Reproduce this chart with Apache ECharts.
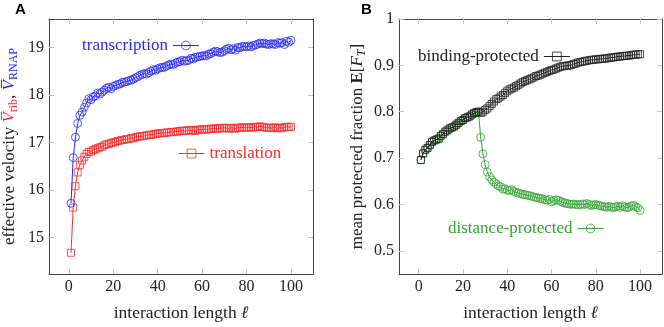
<!DOCTYPE html>
<html>
<head>
<meta charset="utf-8">
<script src="https://cdn.jsdelivr.net/npm/echarts@6/dist/echarts.min.js"></script>
<style>html,body{margin:0;padding:0;background:#fff}#c{width:664px;height:327px}</style>
</head>
<body>
<div id="c"></div>
<script>
// interaction length ℓ = 1..100
const ell = Array.from({length: 100}, (_, i) => i + 1);
const xTicks = [0, 20, 40, 60, 80, 100];
const yTicksA = [15, 16, 17, 18, 19];
const yTicksB = [0.5, 0.6, 0.7, 0.8, 0.9, 1];

const transcription = [15.72,16.68,17.11,17.40,17.57,17.64,17.74,17.83,17.92,17.90,
17.96,17.98,18.04,18.02,18.06,18.10,18.14,18.16,18.13,18.18,
18.20,18.22,18.23,18.26,18.27,18.28,18.30,18.31,18.33,18.36,
18.38,18.41,18.43,18.45,18.44,18.47,18.50,18.53,18.52,18.55,
18.57,18.58,18.58,18.61,18.63,18.65,18.64,18.67,18.69,18.70,
18.73,18.71,18.72,18.73,18.77,18.76,18.79,18.80,18.81,18.82,
18.83,18.82,18.86,18.87,18.90,18.92,18.91,18.89,18.90,18.93,
18.96,18.98,18.95,18.97,18.94,19.00,18.99,19.02,19.02,19.01,
19.03,19.01,19.04,19.05,19.07,19.09,19.08,19.09,19.07,19.06,
19.08,19.07,19.06,19.10,19.09,19.10,19.06,19.13,19.11,19.15];

const translation = [14.68,15.63,16.08,16.37,16.53,16.62,16.70,16.76,16.80,16.81,
16.84,16.86,16.88,16.90,16.91,16.94,16.96,16.97,16.99,17.00,
17.01,17.03,17.04,17.05,17.06,17.07,17.07,17.09,17.09,17.11,
17.12,17.13,17.13,17.14,17.15,17.16,17.16,17.17,17.18,17.19,
17.19,17.20,17.20,17.21,17.21,17.22,17.22,17.23,17.23,17.24,
17.25,17.24,17.25,17.26,17.25,17.26,17.24,17.27,17.27,17.27,
17.28,17.27,17.28,17.29,17.29,17.30,17.29,17.30,17.30,17.31,
17.30,17.29,17.31,17.30,17.29,17.31,17.31,17.32,17.31,17.31,
17.32,17.31,17.32,17.33,17.32,17.34,17.33,17.32,17.31,17.31,
17.30,17.31,17.32,17.30,17.31,17.30,17.32,17.33,17.32,17.33];

const bindingProtected = [0.696,0.710,0.718,0.722,0.728,0.735,0.738,0.740,0.742,0.748,
0.752,0.757,0.760,0.764,0.766,0.768,0.772,0.776,0.780,0.782,
0.786,0.788,0.790,0.794,0.797,0.799,0.800,0.797,0.800,0.804,
0.807,0.812,0.817,0.822,0.827,0.829,0.833,0.836,0.840,0.844,
0.848,0.850,0.852,0.855,0.858,0.861,0.864,0.866,0.868,0.870,
0.872,0.874,0.877,0.878,0.880,0.882,0.884,0.886,0.888,0.890,
0.891,0.893,0.895,0.897,0.898,0.899,0.899,0.900,0.901,0.903,
0.904,0.906,0.907,0.908,0.909,0.910,0.911,0.912,0.912,0.913,
0.913,0.914,0.914,0.915,0.915,0.916,0.917,0.917,0.918,0.919,
0.919,0.920,0.920,0.921,0.921,0.922,0.923,0.923,0.924,0.924];

const distanceProtected = [0.696,0.710,0.718,0.722,0.728,0.735,0.738,0.740,0.742,0.748,
0.752,0.757,0.760,0.764,0.766,0.768,0.772,0.776,0.780,0.782,
0.786,0.788,0.790,0.794,0.797,0.799,0.800,0.745,0.709,0.686,
0.670,0.660,0.653,0.648,0.644,0.640,0.638,0.633,0.634,0.631,
0.630,0.632,0.628,0.626,0.625,0.623,0.622,0.621,0.620,0.619,
0.618,0.616,0.615,0.614,0.613,0.612,0.610,0.609,0.611,0.606,
0.608,0.610,0.609,0.607,0.605,0.603,0.602,0.601,0.600,0.601,
0.600,0.599,0.600,0.601,0.600,0.602,0.600,0.598,0.599,0.600,
0.598,0.597,0.596,0.595,0.594,0.596,0.594,0.593,0.595,0.596,
0.594,0.597,0.595,0.593,0.594,0.597,0.598,0.595,0.593,0.587];

const SERIF = '"Liberation Serif", "DejaVu Serif", serif';
const BLUE = '#2a2aff', RED = '#ff2a2a', GREEN = '#36a336', BLACK = '#222222';
const pairs = (ys) => ell.map((x, i) => [x, ys[i]]);

const chart = echarts.init(document.getElementById('c'), null, {renderer: 'canvas'});

const axisLineStyle = {show: true, onZero: false, lineStyle: {color: '#444', width: 1}};

function xAxes(gi) {
  const base = {
    type: 'value', gridIndex: gi, min: -8.9, max: 109.9,
    axisLine: axisLineStyle,
    axisTick: {show: true, inside: true, length: 5, lineStyle: {color: '#c4c4c4'}, customValues: xTicks},
    splitLine: {show: false}
  };
  return [
    Object.assign({}, base, {
      position: 'bottom',
      axisLabel: {show: true, customValues: xTicks, margin: 5, color: '#222', fontFamily: SERIF, fontSize: 16},
      name: 'interaction length {i|ℓ}', nameLocation: 'middle', nameGap: 30,
      nameTextStyle: {color: '#222', fontFamily: SERIF, fontSize: 17.5, rich: {i: {fontFamily: SERIF, fontSize: 17.5, fontStyle: 'italic', color: '#222'}}}
    }),
    Object.assign({}, base, {position: 'top', axisLabel: {show: false}})
  ];
}
function yAxes(gi, min, max, ticks, nameOpts) {
  const base = {
    type: 'value', gridIndex: gi, min: min, max: max,
    axisLine: axisLineStyle,
    axisTick: {show: true, inside: true, length: 5, lineStyle: {color: '#c4c4c4'}, customValues: ticks},
    splitLine: {show: false}
  };
  return [
    Object.assign({}, base, {
      position: 'left',
      axisLabel: {show: true, customValues: ticks, margin: 5, color: '#222', fontFamily: SERIF, fontSize: 16},
    }, nameOpts),
    Object.assign({}, base, {position: 'right', axisLabel: {show: false}})
  ];
}

const sub = (c) => ({color: c, fontFamily: SERIF, fontSize: 12, lineHeight: 10, verticalAlign: 'bottom'});
const main = (c, it) => ({color: c, fontFamily: SERIF, fontSize: 17, lineHeight: 20, verticalAlign: 'middle', fontStyle: it ? 'italic' : 'normal'});

const xa = xAxes(0).concat(xAxes(1));
const ya = yAxes(0, 14.233, 19.597, yTicksA, {
  name: '{t|effective velocity }{r|V\u0305}{rs|rib}{t|, }{b|V\u0305}{bs|RNAP}',
  nameLocation: 'middle', nameGap: 29,
  nameTextStyle: {rich: {t: main('#222'), r: main(RED, true), rs: sub(RED), b: main(BLUE, true), bs: sub(BLUE)}}
}).concat(yAxes(1, 0.45, 1.0, yTicksB, {
  name: '{t|mean protected fraction }{e|E}{t|[}{f|F}{s|T}{t|]}',
  nameLocation: 'middle', nameGap: 31,
  nameTextStyle: {rich: {t: main('#222'), e: Object.assign(main('#222'), {fontWeight: 'bold'}), f: main('#222', true), s: Object.assign(sub('#222'), {fontStyle: 'italic'})}}
}));

function lineSeries(name, xi, yi, data, color, symbol, size, z) {
  return {
    name: name, type: 'line', xAxisIndex: xi, yAxisIndex: yi, data: data,
    symbol: symbol, symbolSize: size, showSymbol: true, showAllSymbol: true,
    lineStyle: {color: color, width: 1},
    itemStyle: {color: 'rgba(255,255,255,0)', borderColor: color, borderWidth: 0.9, opacity: 0.9},
    emphasis: {disabled: true}, animation: false, z: z
  };
}

const legendBase = {
  orient: 'horizontal', padding: 0, itemWidth: 26, itemHeight: 11, itemGap: 0,
  selectedMode: false, textStyle: {fontFamily: SERIF, fontSize: 17},
  lineStyle: {width: 1}, itemStyle: {borderWidth: 0.9}
};

chart.setOption({
  backgroundColor: '#fff',
  animation: false,
  title: [
    {text: 'A', left: 15, top: 2, padding: 0, textStyle: {fontFamily: '"Liberation Sans", Arial, sans-serif', fontWeight: 'bold', fontSize: 15, color: '#000'}},
    {text: 'B', left: 361, top: 2, padding: 0, textStyle: {fontFamily: '"Liberation Sans", Arial, sans-serif', fontWeight: 'bold', fontSize: 15, color: '#000'}}
  ],
  grid: [
    {left: 49, top: 19, width: 264, height: 264, containLabel: false},
    {left: 399, top: 19, width: 263, height: 264, containLabel: false}
  ],
  xAxis: xa,
  yAxis: ya,
  legend: [
    Object.assign({}, legendBase, {left: 82, top: 37, align: 'right', data: [{name: 'transcription', textStyle: {color: BLUE}}]}),
    Object.assign({}, legendBase, {left: 178, top: 145, align: 'left', data: [{name: 'translation', textStyle: {color: RED}}]}),
    Object.assign({}, legendBase, {left: 418, top: 48, align: 'right', data: [{name: 'binding-protected', textStyle: {color: '#222'}}]}),
    Object.assign({}, legendBase, {left: 448, top: 220, align: 'right', data: [{name: 'distance-protected', textStyle: {color: GREEN}}]})
  ],
  series: [
    lineSeries('translation', 0, 0, pairs(translation), RED, 'rect', 7, 2),
    lineSeries('transcription', 0, 0, pairs(transcription), BLUE, 'circle', 8, 3),
    lineSeries('distance-protected', 2, 2, pairs(distanceProtected), GREEN, 'circle', 8, 2),
    lineSeries('binding-protected', 2, 2, pairs(bindingProtected), BLACK, 'rect', 7, 3)
  ]
});
</script>
</body>
</html>
